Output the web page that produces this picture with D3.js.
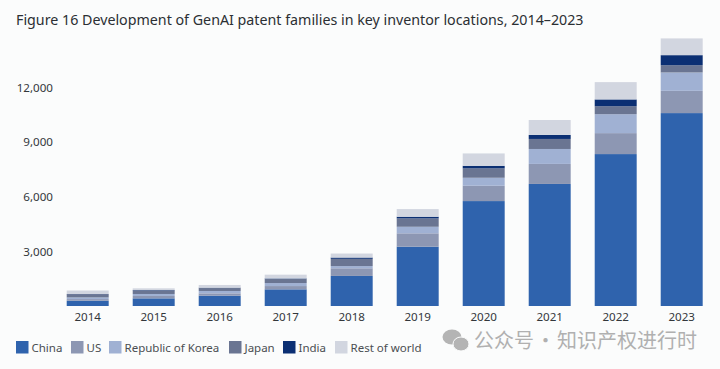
<!DOCTYPE html>
<html>
<head>
<meta charset="utf-8">
<script src="https://cdn.jsdelivr.net/npm/d3@7"></script>
<style>
  html, body { margin: 0; padding: 0; background: #fbfcfc; }
  text { font-family: "Noto Sans", sans-serif; }
</style>
</head>
<body>
<svg id="chart" width="720" height="369" style="display:block"></svg>
<script>
const years = ["2014", "2015", "2016", "2017", "2018", "2019", "2020", "2021", "2022", "2023"];
const seriesNames = ["China", "US", "Republic of Korea", "Japan", "India", "Rest of world"];
const seriesColors = ["#2f63ad", "#8d97b3", "#a0b1d3", "#6a7592", "#0b2f73", "#d2d6e0"];

const china = [290, 420, 565, 915, 1650, 3255, 5760, 6700, 8340, 10590];
const us = [90, 130, 130, 180, 420, 735, 840, 1100, 1150, 1220];
const korea = [90, 110, 130, 165, 120, 360, 440, 820, 1040, 1010];
const japan = [180, 200, 160, 220, 400, 460, 515, 550, 440, 400];
const india = [10, 20, 20, 30, 70, 90, 140, 220, 370, 550];
const rest = [190, 90, 150, 210, 220, 420, 680, 820, 950, 920];
const allSeries = [china, us, korea, japan, india, rest];

const yTicks = [3000, 6000, 9000, 12000];

const svg = d3.select("#chart");

const x = d3.scaleBand().domain(years).range([54.7, 714.7]).paddingInner(0.364).paddingOuter(0.182);
const y = d3.scaleLinear().domain([0, 12000]).range([306, 87.4]);

// Stack the series
const rows = years.map((yr, i) => {
  const row = { year: yr };
  seriesNames.forEach((s, j) => { row[s] = allSeries[j][i]; });
  return row;
});
const stacked = d3.stack().keys(seriesNames)(rows);

svg.append("text")
  .attr("x", 16)
  .attr("y", 25)
  .attr("font-size", 14.25)
  .attr("fill", "#2b2f33")
  .text("Figure 16 Development of GenAI patent families in key inventor locations, 2014–2023");

svg.append("g").selectAll("g")
  .data(stacked)
  .join("g")
  .attr("fill", (d, i) => seriesColors[i])
  .selectAll("rect")
  .data(d => d)
  .join("rect")
  .attr("x", d => x(d.data.year))
  .attr("y", d => y(d[1]))
  .attr("width", x.bandwidth())
  .attr("height", d => y(d[0]) - y(d[1]));

// Axes, no lines, only labels
const yAxis = svg.append("g")
  .attr("transform", "translate(53,0)")
  .call(d3.axisLeft(y).tickValues(yTicks).tickFormat(d3.format(",")).tickSize(0).tickPadding(0));
const xAxis = svg.append("g")
  .attr("transform", "translate(0,306)")
  .call(d3.axisBottom(x).tickSize(0).tickPadding(7));
yAxis.select(".domain").remove();
xAxis.select(".domain").remove();
svg.selectAll(".tick text")
  .attr("font-size", 11.6)
  .attr("font-family", '"Noto Sans", sans-serif')
  .attr("fill", "#33373b");

// Legend
const legendX = [16, 71, 109, 229, 283, 335];
const legend = svg.append("g").selectAll("g")
  .data(seriesNames)
  .join("g")
  .attr("transform", (d, i) => `translate(${legendX[i]},341)`);
legend.append("rect")
  .attr("width", 12.5)
  .attr("height", 12.5)
  .attr("fill", (d, i) => seriesColors[i]);
legend.append("text")
  .attr("x", 15.5)
  .attr("y", 10.5)
  .attr("font-size", 11.5)
  .attr("fill", "#4a4e52")
  .text(d => d);

// Watermark
const mark = svg.append("g").attr("fill", "#b4b4b4");
mark.append("ellipse").attr("cx", 452).attr("cy", 337).attr("rx", 9.5).attr("ry", 7.5);
mark.append("ellipse").attr("cx", 461).attr("cy", 344).attr("rx", 8).attr("ry", 7).attr("stroke", "#fbfcfc").attr("stroke-width", 1);
svg.append("text")
  .attr("x", 474)
  .attr("y", 347.5)
  .attr("font-size", 20)
  .attr("fill", "#b0b0b0")
  .style("font-family", '"Noto Sans CJK SC", sans-serif')
  .style("word-spacing", "-3px")
  .text("公众号 · 知识产权进行时");
</script>
</body>
</html>
